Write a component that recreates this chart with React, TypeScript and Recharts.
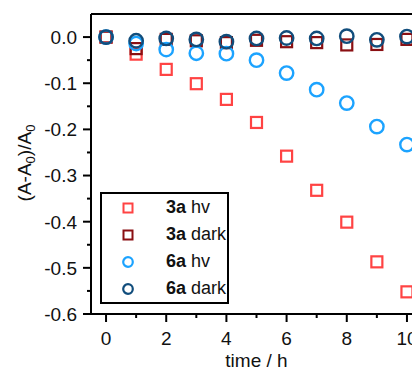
import React from "react";
import { ScatterChart, Scatter, XAxis, YAxis, Legend, ReferenceLine, Label } from "recharts";

// time in hours
const times = [0, 1, 2, 3, 4, 5, 6, 7, 8, 9, 10];
// (A-A0)/A0 for each sample
const hv3a = [0, -0.037, -0.07, -0.101, -0.135, -0.185, -0.258, -0.332, -0.401, -0.487, -0.552];
const dark3a = [0, -0.025, -0.005, -0.008, -0.012, -0.007, -0.01, -0.012, -0.017, -0.016, -0.005];
const hv6a = [0, -0.014, -0.027, -0.035, -0.036, -0.05, -0.078, -0.114, -0.143, -0.194, -0.233];
const dark6a = [0, -0.008, -0.003, -0.005, -0.01, -0.003, -0.002, -0.003, 0.002, -0.006, 0.001];

const xTicks = [0, 1, 2, 3, 4, 5, 6, 7, 8, 9, 10];
const yTicks = [-0.6, -0.55, -0.5, -0.45, -0.4, -0.35, -0.3, -0.25, -0.2, -0.15, -0.1, -0.05, 0];

const FONT = "'Liberation Sans', Arial, sans-serif";

const series = [
  { name: "3a", suffix: "hv", color: "#ff4343", shape: "square", values: hv3a },
  { name: "3a", suffix: "dark", color: "#8a0f12", shape: "square", values: dark3a },
  { name: "6a", suffix: "hv", color: "#1ca3ff", shape: "circle", values: hv6a },
  { name: "6a", suffix: "dark", color: "#114d7c", shape: "circle", values: dark6a },
];

const toPoints = (vals: number[]) => times.map((t, i) => ({ x: t, y: vals[i] }));

const makeShape = (kind: string, color: string) => (props: any) => {
  const { cx, cy } = props;
  if (kind === "square") {
    return <rect x={cx - 5.5} y={cy - 5.5} width={11} height={11} fill="none" stroke={color} strokeWidth={2.2} />;
  }
  return <circle cx={cx} cy={cy} r={6.7} fill="none" stroke={color} strokeWidth={2.4} />;
};

const XTick = (props: any) => {
  const { x, y, payload } = props;
  const major = payload.value % 2 === 0;
  return (
    <g>
      <line x1={x} y1={y} x2={x} y2={y + (major ? 8 : 4)} stroke="#000" strokeWidth={2} />
      {major && (
        <text x={x} y={y + 31} textAnchor="middle" fontSize={19} fill="#111">
          {payload.value}
        </text>
      )}
    </g>
  );
};

const YTick = (props: any) => {
  const { x, y, payload } = props;
  const major = Math.round(payload.value * 100) % 10 === 0;
  return (
    <g>
      <line x1={x} y1={y} x2={x - (major ? 8 : 4)} y2={y} stroke="#000" strokeWidth={2} />
      {major && (
        <text x={x - 14} y={y} dy="0.36em" textAnchor="end" fontSize={19} fill="#111">
          {payload.value.toFixed(1)}
        </text>
      )}
    </g>
  );
};

const LegendBox = () => (
  <div
    style={{
      border: "2px solid #000",
      width: 129,
      boxSizing: "border-box",
      background: "#fff",
      fontFamily: FONT,
      fontSize: 18,
      color: "#111",
      whiteSpace: "nowrap",
    }}
  >
    {series.map((s) => (
      <div key={s.name + s.suffix} style={{ display: "flex", alignItems: "center", height: 27 }}>
        <svg width={14} height={14} style={{ marginLeft: 19, flexShrink: 0 }}>
          {s.shape === "square" ? (
            <rect x={2.5} y={2.5} width={9} height={9} fill="none" stroke={s.color} strokeWidth={2} />
          ) : (
            <circle cx={7} cy={7} r={4.8} fill="none" stroke={s.color} strokeWidth={2.2} />
          )}
        </svg>
        <span style={{ marginLeft: 31, whiteSpace: "nowrap" }}>
          <b>{s.name}</b> {s.suffix}
        </span>
      </div>
    ))}
  </div>
);

export default function App() {
  return (
    <div style={{ width: 412, height: 362, overflow: "hidden", fontFamily: FONT }}>
      <ScatterChart width={430} height={362} margin={{ top: 6, right: 16, bottom: 0, left: 0 }}>
        <XAxis
          dataKey="x"
          type="number"
          domain={[-0.5, 10.5]}
          ticks={xTicks}
          tick={<XTick />}
          tickSize={0}
          tickMargin={0}
          tickLine={false}
          height={56}
          axisLine={{ stroke: "#000", strokeWidth: 2 }}
          interval={0}
        >
          <Label
            content={(p: any) => {
              const vb = p.viewBox;
              return (
                <text x={vb.x + vb.width / 2} y={359} textAnchor="middle" fontSize={19} fill="#111">
                  time / h
                </text>
              );
            }}
          />
        </XAxis>
        <YAxis
          dataKey="y"
          type="number"
          domain={[-0.6, 0.05]}
          ticks={yTicks}
          tick={<YTick />}
          tickSize={0}
          tickMargin={0}
          tickLine={false}
          width={83}
          axisLine={{ stroke: "#000", strokeWidth: 2 }}
          interval={0}
        >
          <Label
            content={() => (
              <text x={23} y={155} transform="rotate(-90, 23, 155)" textAnchor="middle" fontSize={19} fill="#111">
                (A-A<tspan dy={4} fontSize={13}>0</tspan>
                <tspan dy={-4}>)/A</tspan>
                <tspan dy={4} fontSize={13}>0</tspan>
              </text>
            )}
          />
        </YAxis>
        <ReferenceLine y={0.05} stroke="#000" strokeWidth={2} />
        <ReferenceLine x={10.5} stroke="#000" strokeWidth={2} />
        {series.map((s) => (
          <Scatter
            key={s.name + s.suffix}
            name={`${s.name} ${s.suffix}`}
            data={toPoints(s.values)}
            shape={makeShape(s.shape, s.color)}
            isAnimationActive={false}
          />
        ))}
        <Legend
          layout="vertical"
          align="center"
          verticalAlign="middle"
          content={() => <LegendBox />}
          wrapperStyle={{ left: 92, top: 184, width: 129 }}
        />
      </ScatterChart>
    </div>
  );
}
